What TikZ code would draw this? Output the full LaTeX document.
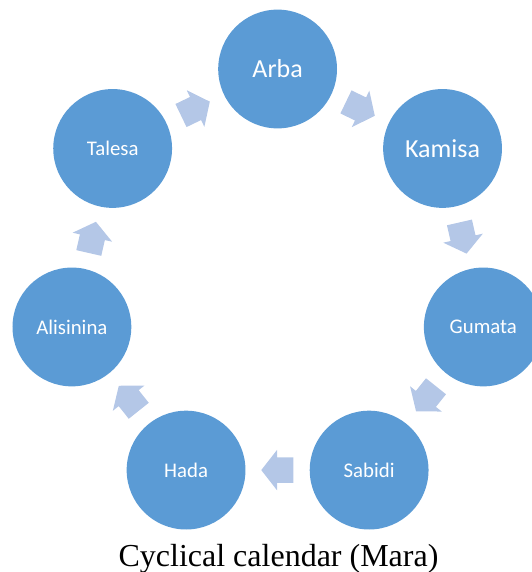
\documentclass[tikz,border=0pt]{standalone}
\usepackage{fontspec}
\setmainfont{Carlito}
\newfontfamily\captionserif{Liberation Serif}
\usepackage{tikz}
\usetikzlibrary{shapes.arrows, calc}
\definecolor{dayblue}{RGB}{91,155,213}
\definecolor{arrowblue}{RGB}{180,199,231}
\tikzset{
  day/.style={circle, fill=dayblue, text=white, minimum size=89.1pt, inner sep=0pt},
  bigday/.style={day, font=\fontsize{19.5}{22}\selectfont},
  smallday/.style={day, font=\fontsize{15.6}{18}\selectfont},
  nextday/.style={single arrow, fill=arrowblue, draw=none, minimum height=24pt,
    inner xsep=0pt, inner ysep=9.4pt, single arrow head extend=5.6pt,
    single arrow tip angle=104, sloped, allow upside down, pos=0.25, anchor=tail}
}

\begin{document}
\begin{tikzpicture}[x=0.75pt, y=0.75pt]
\useasboundingbox (0,0) rectangle (532,572);
\coordinate (ctr) at (277.6,292);

% the seven days, clockwise from the top
\node[bigday] (arba) at ($(ctr)+(90:211)$) {Arba};
\node[bigday] (kamisa) at ($(ctr)+(38.57:211)$) {Kamisa};
\node[smallday] (gumata) at ($(ctr)+(-12.86:211)$) {Gumata};
\node[smallday] (sabidi) at ($(ctr)+(-64.29:211)$) {Sabidi};
\node[smallday] (hada) at ($(ctr)+(-115.71:211)$) {Hada};
\node[smallday] (alisinina) at ($(ctr)+(-167.14:211)$) {Alisinina};
\node[smallday] (talesa) at ($(ctr)+(141.43:211)$) {Talesa};

% block arrows between neighbours
\path (arba) -- (kamisa) node[nextday] {};
\path (kamisa) -- (gumata) node[nextday] {};
\path (gumata) -- (sabidi) node[nextday] {};
\path (sabidi) -- (hada) node[nextday] {};
\path (hada) -- (alisinina) node[nextday] {};
\path (alisinina) -- (talesa) node[nextday] {};
\path (talesa) -- (arba) node[nextday] {};

\node[font=\captionserif\fontsize{24}{28}\selectfont, anchor=base] (caption) at (278.5,5.4) {Cyclical calendar (Mara)};
\end{tikzpicture}
\end{document}
